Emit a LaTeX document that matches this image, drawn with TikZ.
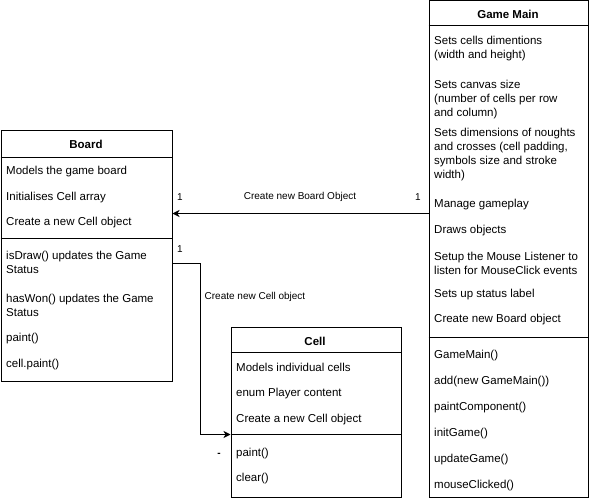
\documentclass[tikz,border=0pt]{standalone}
\usepackage{fontspec}
\setmainfont{Liberation Sans}
\usetikzlibrary{arrows.meta}
\begin{document}
\begin{tikzpicture}[x=1pt,y=-1pt,
  classbox/.style={draw=black,line width=1pt,fill=white,inner sep=0pt,anchor=north west},
  sepline/.style={draw=black,line width=1pt},
  title/.style={font=\fontsize{11.5}{13}\selectfont\bfseries,inner sep=0pt,yshift=-1pt},
  item/.style={font=\fontsize{11.5}{14}\selectfont,inner sep=0pt,anchor=west,align=left,yshift=-1.5pt},
  elabel/.style={font=\fontsize{10}{11}\selectfont,inner sep=0pt,yshift=-1pt},
  conn/.style={draw=black,line width=1pt,-{Stealth[length=7pt,width=7pt,inset=2pt]}}]
\useasboundingbox (0,0) rectangle (589,500);
% Board
\node[classbox,minimum width=171pt,minimum height=250pt] (board) at (0.5,130.5) {};
\draw[sepline] (0.5,157.5) -- (171.5,157.5);
\draw[sepline] (0.5,238.5) -- (171.5,238.5);
\node[title] (boardt) at (86,143) {Board};
\node[item] (b1) at (6,170) {Models the game board};
\node[item] (b2) at (6,196) {Initialises Cell array};
\node[item] (b3) at (6,221) {Create a new Cell object};
\node[item] (b4) at (6,261) {isDraw() updates the Game\\Status};
\node[item] (b5) at (6,304) {hasWon() updates the Game\\Status};
\node[item] (b6) at (6,337) {paint()};
\node[item] (b7) at (6,363) {cell.paint()};
% Game Main
\node[classbox,minimum width=159pt,minimum height=496pt] (gm) at (428.5,0.5) {};
\draw[sepline] (428.5,25.5) -- (587.5,25.5);
\draw[sepline] (428.5,337.5) -- (587.5,337.5);
\node[title] (gmt) at (508,13) {Game Main};
\node[item] (g1) at (434,47) {Sets cells dimentions\\(width and height)};
\node[item] (g2) at (434,98) {Sets canvas size\\(number of cells per row\\and column)};
\node[item] (g3) at (434,153.5) {Sets dimensions of noughts\\and crosses (cell padding,\\symbols size and stroke\\width)};
\node[item] (g4) at (434,203) {Manage gameplay};
\node[item] (g5) at (434,229) {Draws objects};
\node[item] (g6) at (434,261.5) {Setup the Mouse Listener to\\listen for MouseClick events};
\node[item] (g7) at (434,293) {Sets up status label};
\node[item] (g8) at (434,318) {Create new Board object};
\node[item] (g9) at (434,354) {GameMain()};
\node[item] (g10) at (434,380) {add(new GameMain())};
\node[item] (g11) at (434,406) {paintComponent()};
\node[item] (g12) at (434,432) {initGame()};
\node[item] (g13) at (434,458) {updateGame()};
\node[item] (g14) at (434,484) {mouseClicked()};
% Cell
\node[classbox,minimum width=170pt,minimum height=170pt] (cell) at (230.5,326.5) {};
\draw[sepline] (230.5,352.5) -- (400.5,352.5);
\draw[sepline] (230.5,434.5) -- (400.5,434.5);
\node[title] (cellt) at (315,340) {Cell};
\node[item] (c1) at (236,366) {Models individual cells};
\node[item] (c2) at (236,392) {enum Player content};
\node[item] (c3) at (236,418) {Create a new Cell object};
\node[item] (c4) at (236,452) {paint()};
\node[item] (c5) at (236,477) {clear()};
% connectors
\coordinate (y1) at (0,213.5);
\coordinate (y2) at (0,263.5);
\coordinate (k1) at (200.5,263.5);
\coordinate (k2) at (200.5,434.5);
\coordinate (y3) at (0,434.5);
\draw[conn] (gm.west |- y1) -- (board.east |- y1);
\draw[conn] (board.east |- y2) -- (k1) -- (k2) -- (cell.west |- y3);
\node[elabel] (l1) at (180,196) {1};
\node[elabel] (l2) at (300,196) {Create new Board Object};
\node[elabel] (l3) at (418,196) {1};
\node[elabel] (l4) at (180,248) {1};
\node[elabel] (l5) at (255,296) {Create new Cell object};
\node[elabel,font=\fontsize{10}{11}\selectfont\bfseries] (l6) at (219,454) {-};
\end{tikzpicture}
\end{document}
